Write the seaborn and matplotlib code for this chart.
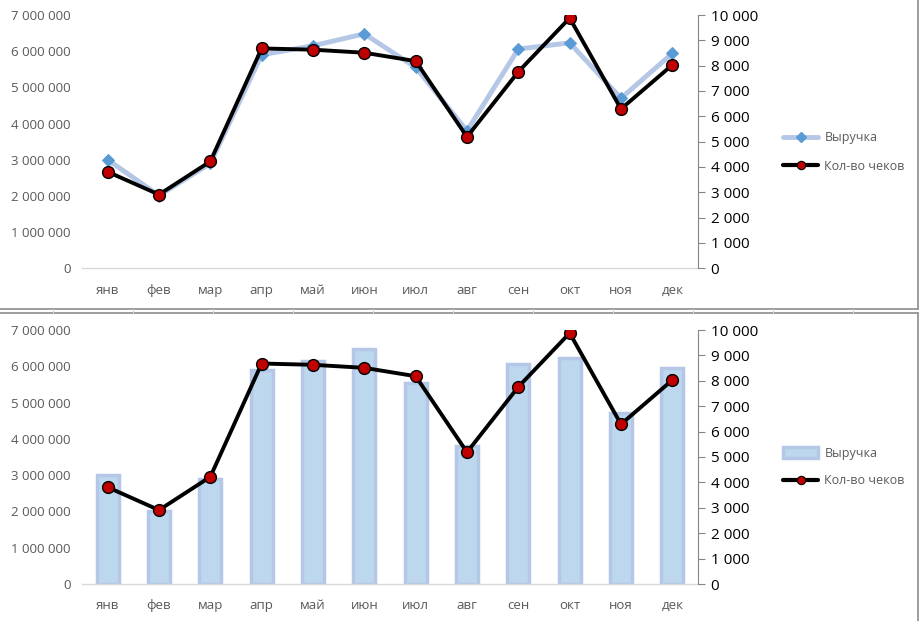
import matplotlib
matplotlib.use('Agg')
import matplotlib.pyplot as plt
from matplotlib.lines import Line2D
from matplotlib.patches import Patch
import matplotlib.ticker as mticker
import seaborn as sns
import pandas as pd

months = ['янв', 'фев', 'мар', 'апр', 'май', 'июн', 'июл', 'авг', 'сен', 'окт', 'ноя', 'дек']
revenue = [3000000, 2010000, 2900000, 5900000, 6150000, 6480000, 5550000, 3800000, 6060000, 6230000, 4700000, 5940000]
checks = [3810, 2910, 4220, 8680, 8630, 8510, 8180, 5190, 7760, 9880, 6290, 8030]

rev_label = 'Выручка'
chk_label = 'Кол-во чеков'

df = pd.DataFrame({'pos': range(len(months)), 'month': months, 'revenue': revenue, 'checks': checks})

sns.set_theme(style='white')
plt.rcParams['font.family'] = ['Open Sans', 'DejaVu Sans']

W, H = 919, 621
fig = plt.figure(figsize=(W / 100, H / 100), dpi=100)

rev_line = '#b4c7e7'
rev_mark = '#5b9bd5'
bar_fill = '#bdd7ee'
bar_edge = '#b4c7e7'
red = '#c00000'


def fx(px):
    return px / W


def fy(py):
    return 1 - py / H


def style_axes(ax, ax2):
    ax.set_xlim(-0.5, 11.5)
    ax.set_ylim(0, 7000000)
    ax.yaxis.set_major_locator(mticker.MultipleLocator(1000000))
    ax.yaxis.set_major_formatter(mticker.FuncFormatter(lambda v, p: f'{int(v):,}'.replace(',', ' ')))
    ax.set_xticks(range(12))
    ax.set_xticklabels(months)
    ax.tick_params(axis='both', length=0, labelsize=9.5, colors='#595959', pad=8)
    ax.tick_params(axis='x', pad=11)
    for s in ['top', 'right', 'left']:
        ax.spines[s].set_visible(False)
    ax.spines['bottom'].set_color('#d9d9d9')
    ax.spines['bottom'].set_linewidth(1)
    ax.set_xlabel('')
    ax.set_ylabel('')

    ax2.set_ylim(0, 10000)
    ax2.yaxis.set_major_locator(mticker.MultipleLocator(1000))
    ax2.yaxis.set_major_formatter(mticker.FuncFormatter(lambda v, p: f'{int(v):,}'.replace(',', ' ')))
    ax2.tick_params(axis='y', direction='out', length=5, width=0.8, color='#868686',
                    labelsize=11, labelcolor='#000000', pad=4)
    for s in ['top', 'left', 'bottom']:
        ax2.spines[s].set_visible(False)
    ax2.spines['right'].set_color('#868686')
    ax2.spines['right'].set_linewidth(0.8)
    ax2.set_ylabel('')
    ax2.set_xlabel('')


chk_handle = Line2D([], [], color='black', lw=3, marker='o', markersize=6,
                    markerfacecolor=red, markeredgecolor='black', markeredgewidth=0.8)

# top chart: two lines
ax1 = fig.add_axes([fx(82), fy(268.3), fx(698 - 82), fy(15) - fy(268.3)])
sns.lineplot(data=df, x='pos', y='revenue', ax=ax1, color=rev_line, lw=3.5, marker='D',
             markersize=6.5, markerfacecolor=rev_mark, markeredgecolor=rev_mark)
ax1b = ax1.twinx()
sns.lineplot(data=df, x='pos', y='checks', ax=ax1b, color='black', lw=2.8, marker='o',
             markersize=8.5, markerfacecolor=red, markeredgecolor='black', markeredgewidth=1)
style_axes(ax1, ax1b)

rev_handle = Line2D([], [], color=rev_line, lw=3.5, marker='D', markersize=5.5,
                    markerfacecolor=rev_mark, markeredgecolor=rev_mark)
fig.legend([rev_handle, chk_handle], [rev_label, chk_label], loc='center left',
           bbox_to_anchor=(fx(772), fy(152)), frameon=False, fontsize=9,
           handlelength=2.8, labelspacing=1.2, handletextpad=0.5, labelcolor='#595959')

# bottom chart: bars + line
ax2 = fig.add_axes([fx(82), fy(584), fx(698 - 82), fy(330) - fy(584)])
sns.barplot(data=df, x='pos', y='revenue', ax=ax2, color=bar_fill, saturation=1,
            width=0.43, edgecolor=bar_edge, linewidth=2.5)
ax2b = ax2.twinx()
sns.lineplot(data=df, x='pos', y='checks', ax=ax2b, color='black', lw=2.8, marker='o',
             markersize=8.5, markerfacecolor=red, markeredgecolor='black', markeredgewidth=1)
style_axes(ax2, ax2b)

bar_handle = Patch(facecolor=bar_fill, edgecolor=bar_edge, linewidth=2.5)
fig.legend([bar_handle, chk_handle], [rev_label, chk_label], loc='center left',
           bbox_to_anchor=(fx(772), fy(467)), frameon=False, fontsize=9,
           handlelength=2.8, handleheight=1.0, labelspacing=1.2, handletextpad=0.5,
           labelcolor='#595959')

# chart frames and sheet grid in the gap
frame = '#8c8c8c'
fig.add_artist(Line2D([0, fx(917.5)], [fy(308.5), fy(308.5)], color=frame, lw=1.2))
fig.add_artist(Line2D([fx(917.5), fx(917.5)], [fy(308.5), 1], color=frame, lw=1.2))
fig.add_artist(Line2D([0, fx(917.5)], [fy(312.5), fy(312.5)], color=frame, lw=1.2))
fig.add_artist(Line2D([fx(917.5), fx(917.5)], [0, fy(312.5)], color=frame, lw=1.2))
for gx in range(53, 919, 80):
    fig.add_artist(Line2D([fx(gx), fx(gx)], [fy(312.5), fy(308.5)], color='#d4d4d4', lw=0.8))

fig.savefig('out.png', dpi=100)
